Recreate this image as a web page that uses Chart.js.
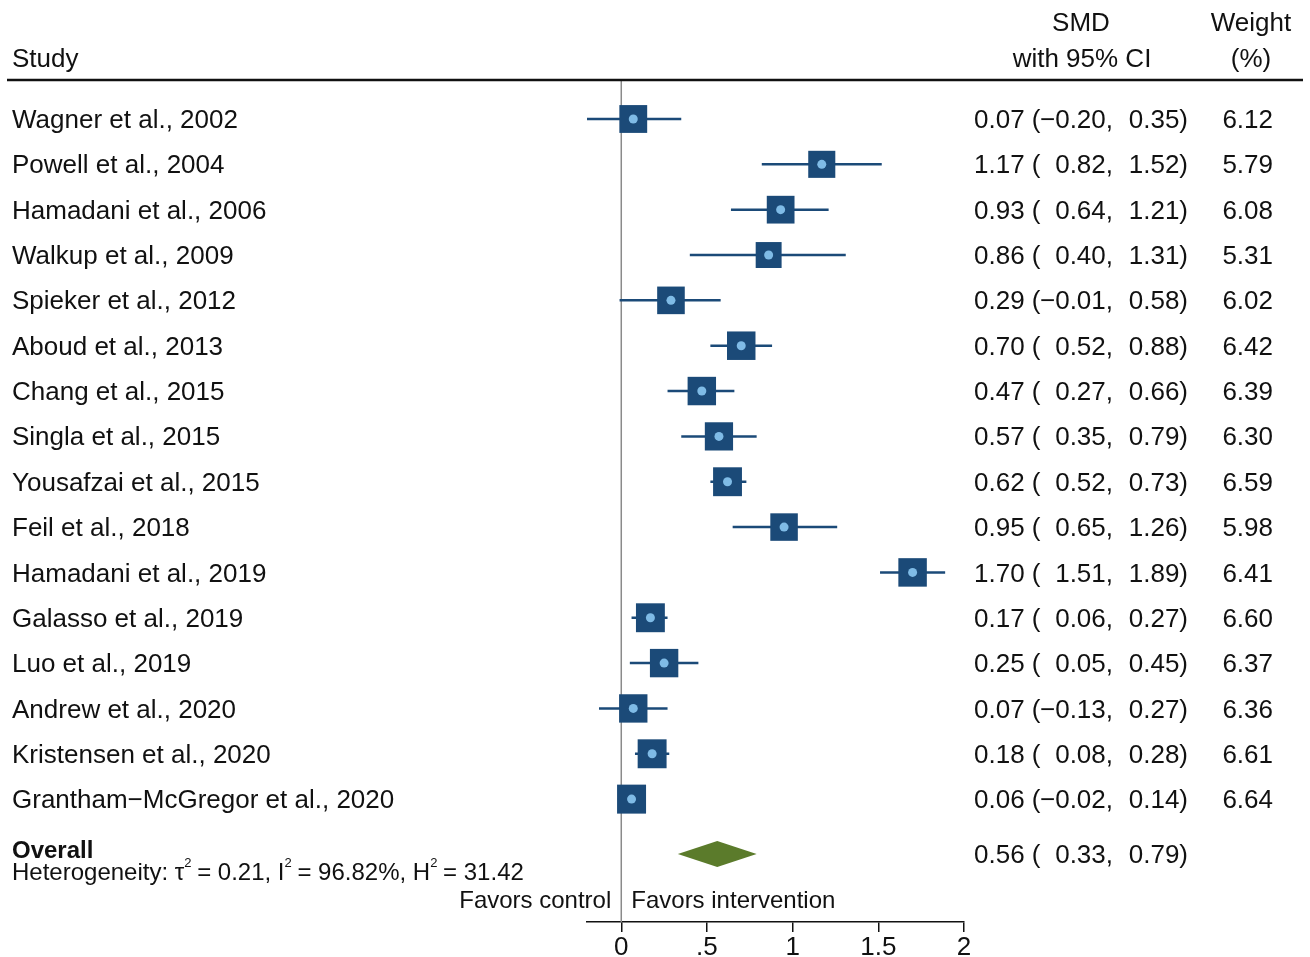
<!DOCTYPE html>
<html>
<head>
<meta charset="utf-8">
<script src="https://cdn.jsdelivr.net/npm/chart.js@4.4.1/dist/chart.umd.min.js"></script>
<style>
  body { margin: 0; background: #fff; }
  #wrap { width: 1310px; height: 957px; position: relative; }
</style>
</head>
<body>
<div id="wrap"><canvas id="forest"></canvas></div>
<script>
const studies = [
  'Wagner et al., 2002', 'Powell et al., 2004', 'Hamadani et al., 2006', 'Walkup et al., 2009',
  'Spieker et al., 2012', 'Aboud et al., 2013', 'Chang et al., 2015', 'Singla et al., 2015',
  'Yousafzai et al., 2015', 'Feil et al., 2018', 'Hamadani et al., 2019', 'Galasso et al., 2019',
  'Luo et al., 2019', 'Andrew et al., 2020', 'Kristensen et al., 2020', 'Grantham\u2212McGregor et al., 2020'
];
const smd    = [0.07, 1.17, 0.93, 0.86, 0.29, 0.70, 0.47, 0.57, 0.62, 0.95, 1.70, 0.17, 0.25, 0.07, 0.18, 0.06];
const ciLow  = [-0.20, 0.82, 0.64, 0.40, -0.01, 0.52, 0.27, 0.35, 0.52, 0.65, 1.51, 0.06, 0.05, -0.13, 0.08, -0.02];
const ciHigh = [0.35, 1.52, 1.21, 1.31, 0.58, 0.88, 0.66, 0.79, 0.73, 1.26, 1.89, 0.27, 0.45, 0.27, 0.28, 0.14];
const weights = [6.12, 5.79, 6.08, 5.31, 6.02, 6.42, 6.39, 6.30, 6.59, 5.98, 6.41, 6.60, 6.37, 6.36, 6.61, 6.64];

const overallEst = 0.56;
const overallLow = 0.33;
const overallHigh = 0.79;
const tau2 = '0.21', i2 = '96.82%', h2 = '31.42';

const xTickValues = [0, 0.5, 1, 1.5, 2];
const xTickLabels = ['0', '.5', '1', '1.5', '2'];

const NAVY = '#1b4a78';
const DOT = '#7fbbe6';
const GREEN = '#5b7b2b';
const FONT = "'Liberation Sans', Arial, Helvetica, sans-serif";
const FS = 26;
const OVERALL_ROW = 16.21;

const fmt = v => (v < 0 ? '\u2212' : '') + Math.abs(v).toFixed(2);

// one short line dataset per study for its confidence interval
const ciSets = studies.map((s, i) => ({
  type: 'line',
  data: [{ x: ciLow[i], y: i }, { x: ciHigh[i], y: i }],
  borderColor: NAVY,
  borderWidth: 2.5,
  pointRadius: 0,
  order: 3
}));

// square area follows the study weight
const squareSet = {
  type: 'scatter',
  data: studies.map((s, i) => ({ x: smd[i], y: i })),
  pointStyle: 'rect',
  pointRadius: weights.map(w => 11.25 * Math.sqrt(w) / Math.SQRT2),
  backgroundColor: NAVY,
  borderWidth: 0,
  order: 2
};

const dotSet = {
  type: 'scatter',
  data: studies.map((s, i) => ({ x: smd[i], y: i })),
  pointStyle: 'circle',
  pointRadius: 4.5,
  backgroundColor: DOT,
  borderWidth: 0,
  order: 1
};

const forestText = {
  id: 'forestText',
  beforeDatasetsDraw(chart) {
    const { ctx, scales: { x }, chartArea } = chart;
    const x0 = x.getPixelForValue(0);
    ctx.save();
    ctx.strokeStyle = '#8a8a8a';
    ctx.lineWidth = 1.5;
    ctx.beginPath();
    ctx.moveTo(x0, chartArea.top + 1);
    ctx.lineTo(x0, chartArea.bottom);
    ctx.stroke();
    ctx.restore();
  },
  afterDatasetsDraw(chart) {
    const { ctx, scales: { x, y } } = chart;
    ctx.save();

    // pooled estimate diamond
    const yc = y.getPixelForValue(OVERALL_ROW);
    ctx.fillStyle = GREEN;
    ctx.beginPath();
    ctx.moveTo(x.getPixelForValue(overallLow), yc);
    ctx.lineTo(x.getPixelForValue(overallEst), yc - 13);
    ctx.lineTo(x.getPixelForValue(overallHigh), yc);
    ctx.lineTo(x.getPixelForValue(overallEst), yc + 13);
    ctx.closePath();
    ctx.fill();

    ctx.fillStyle = '#111';
    ctx.textBaseline = 'alphabetic';
    ctx.font = `${FS}px ${FONT}`;

    // header
    ctx.textAlign = 'left';
    ctx.fillText('Study', 12, 67);
    ctx.textAlign = 'center';
    ctx.fillText('SMD', 1081, 31);
    ctx.fillText('with 95% CI', 1082, 67);
    ctx.fillText('Weight', 1251, 31);
    ctx.fillText('(%)', 1251, 67);

    ctx.strokeStyle = '#111';
    ctx.lineWidth = 2.5;
    ctx.beginPath();
    ctx.moveTo(7, 80);
    ctx.lineTo(1303, 80);
    ctx.stroke();

    const off = 0.35 * FS;
    const rowText = (yy, est, lo, hi, w) => {
      ctx.textAlign = 'left';
      ctx.fillText(fmt(est) + ' (', 974, yy);
      ctx.textAlign = 'right';
      ctx.fillText(fmt(lo) + ',', 1113, yy);
      ctx.fillText(fmt(hi) + ')', 1188, yy);
      if (w !== undefined) ctx.fillText(w.toFixed(2), 1273, yy);
    };

    studies.forEach((name, i) => {
      const yy = y.getPixelForValue(i) + off;
      ctx.textAlign = 'left';
      ctx.fillText(name, 12, yy);
      rowText(yy, smd[i], ciLow[i], ciHigh[i], weights[i]);
    });

    // overall row
    rowText(yc + off, overallEst, overallLow, overallHigh);
    ctx.textAlign = 'left';
    ctx.font = `bold ${FS - 2}px ${FONT}`;
    ctx.fillText('Overall', 12, 858);

    // heterogeneity line with small superscripts
    const parts = [
      ['Heterogeneity: \u03c4', false], ['2', true], [' = ' + tau2 + ', I', false], ['2', true],
      [' = ' + i2 + ', H', false], ['2', true], [' = ' + h2, false]
    ];
    let cx = 12;
    parts.forEach(([t, sup]) => {
      ctx.font = sup ? `13px ${FONT}` : `${FS - 2}px ${FONT}`;
      ctx.fillText(t, cx, sup ? 867 : 880);
      cx += ctx.measureText(t).width - (sup ? 1 : 0);
    });

    ctx.font = `${FS - 2}px ${FONT}`;
    const x0 = x.getPixelForValue(0);
    ctx.textAlign = 'right';
    ctx.fillText('Favors control', x0 - 10, 908);
    ctx.textAlign = 'left';
    ctx.fillText('Favors intervention', x0 + 10, 908);

    ctx.restore();
  }
};

new Chart(document.getElementById('forest'), {
  data: { datasets: [...ciSets, squareSet, dotSet] },
  options: {
    responsive: true,
    maintainAspectRatio: false,
    animation: false,
    events: [],
    layout: { padding: { left: 587, right: 346, top: 80, bottom: 0 } },
    plugins: { legend: { display: false }, tooltip: { enabled: false } },
    scales: {
      x: {
        type: 'linear',
        min: -0.2,
        max: 2,
        afterFit: scale => { scale.height = 35; },
        afterBuildTicks: scale => { scale.ticks = xTickValues.map(v => ({ value: v })); },
        ticks: {
          color: '#111',
          padding: 0,
          font: { family: FONT, size: FS },
          callback: (v) => xTickLabels[xTickValues.indexOf(v)],
          maxRotation: 0,
          autoSkip: false
        },
        grid: { drawOnChartArea: false, drawTicks: true, tickLength: 10, color: '#111', lineWidth: 1.5 },
        border: { display: true, color: '#111', width: 1.5 }
      },
      y: {
        type: 'linear',
        display: false,
        reverse: true,
        min: -0.86,
        max: 17.71
      }
    }
  },
  plugins: [forestText]
});
</script>
</body>
</html>
